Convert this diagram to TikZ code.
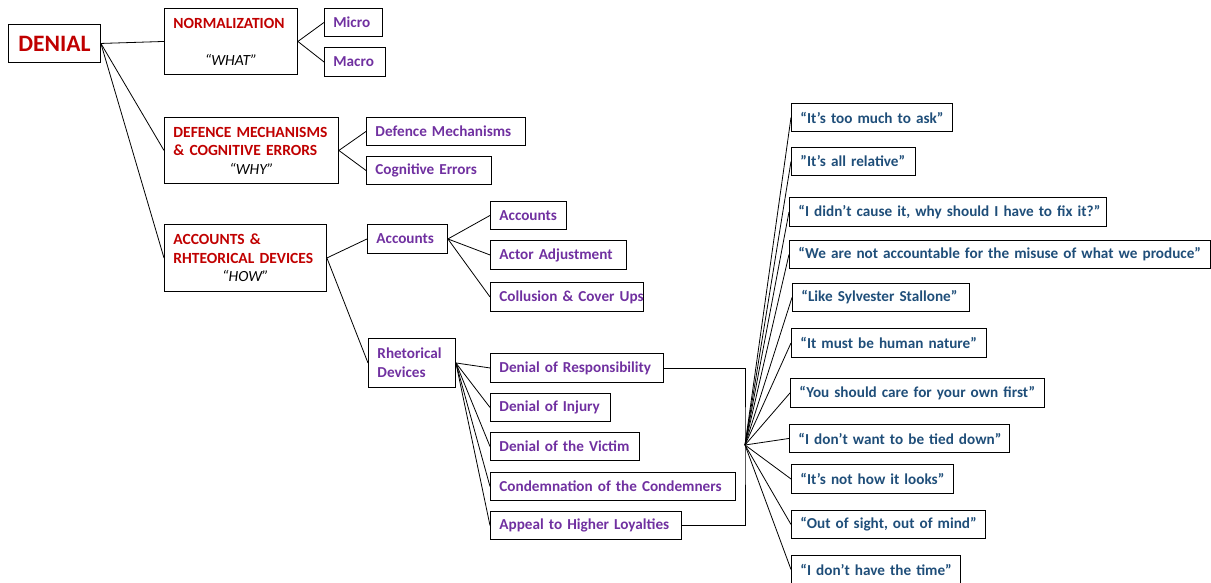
\documentclass[tikz,border=0pt]{standalone}
\usepackage{fontspec}
\setmainfont{Carlito}
\definecolor{dred}{HTML}{C00000}
\definecolor{purp}{HTML}{7030A0}
\definecolor{qblue}{HTML}{1F4E79}
\tikzset{
  bx/.style={draw=black, line width=0.9pt, rectangle, anchor=north west, inner xsep=9pt, inner ysep=0pt, align=left, font=\fontsize{15.2}{18.5}\selectfont\bfseries},
  redbx/.style={bx, text=dred, font=\fontsize{15.5}{18.5}\selectfont\bfseries},
  purbx/.style={bx, text=purp},
  qbx/.style={bx, text=qblue},
  ln/.style={draw=black, line width=0.8pt}
}
\newcommand{\qline}[1]{\makebox[\linewidth][c]{\color{black}\normalfont\itshape #1}}
\newcommand{\sq}{\symbol{34}}
\newcommand{\one}[1]{\makebox[\linewidth][l]{#1}}
\begin{document}
\begin{tikzpicture}[x=1pt,y=-1pt]
\useasboundingbox (0,0) rectangle (1211,582);
% main nodes
\node[bx, text=dred, font=\fontsize{23.5}{25}\selectfont\bfseries, text width=74pt, minimum height=38pt, align=center] (denial) at (8,24) {DENIAL};
\node[redbx, text width=115pt, minimum height=66pt] (norm) at (164,8) {\one{NORMALIZATION}\\[18.5pt] \qline{“WHAT”}};
\node[redbx, text width=156pt, minimum height=66pt] (def) at (164,117) {\one{DEFENCE MECHANISMS}\\ \one{\& COGNITIVE ERRORS}\\ \qline{“WHY”}};
\node[redbx, text width=144pt, minimum height=67pt] (acc) at (164,224) {\one{ACCOUNTS \&}\\ \one{RHTEORICAL DEVICES}\\ \qline{“HOW”}};
% level 2
\node[purbx, text width=40pt, minimum height=28pt] (micro) at (324,8) {\one{Micro}};
\node[purbx, text width=43pt, minimum height=29pt] (macro) at (324,47) {\one{Macro}};
\node[purbx, text width=141pt, minimum height=28pt] (dm) at (366,117) {\one{Defence Mechanisms}};
\node[purbx, text width=107pt, minimum height=28pt] (ce) at (366,156) {\one{Cognitive Errors}};
\node[purbx, text width=62pt, minimum height=29pt] (accs) at (367,224) {\one{Accounts}};
\node[purbx, text width=69pt, minimum height=49pt] (rhet) at (368,338) {\one{Rhetorical}\\ \one{Devices}};
% level 3
\node[purbx, text width=58pt, minimum height=28pt] (a1) at (490,201) {\one{Accounts}};
\node[purbx, text width=118pt, minimum height=29pt] (a2) at (490,240) {\one{Actor Adjustment}};
\node[purbx, text width=135pt, minimum height=29pt] (a3) at (490,282) {\one{Collusion \& Cover Ups}};
\node[purbx, text width=155pt, minimum height=29pt] (r1) at (490,353) {\one{Denial of Responsibility}};
\node[purbx, text width=102pt, minimum height=28pt] (r2) at (490,393) {\one{Denial of Injury}};
\node[purbx, text width=131pt, minimum height=28pt] (r3) at (490,432) {\one{Denial of the Victim}};
\node[purbx, text width=227pt, minimum height=28pt] (r4) at (490,472) {\one{Condemnation of the Condemners}};
\node[purbx, text width=173pt, minimum height=28pt] (r5) at (490,511) {\one{Appeal to Higher Loyalties}};
% quotes
\node[qbx, text width=143pt, minimum height=28pt] (q1) at (791,103) {\one{“It’s too much to ask”}};
\node[qbx, text width=106pt, minimum height=28pt] (q2) at (791,147) {\one{”It’s all relative”}};
\node[qbx, text width=299pt, minimum height=29pt] (q3) at (789,197) {\one{“I didn’t cause it, why should I have to fix it?”}};
\node[qbx, text width=403pt, minimum height=28pt] (q4) at (789,240) {\one{“We are not accountable for the misuse of what we produce”}};
\node[qbx, text width=159pt, minimum height=28pt] (q5) at (792,283) {\one{“Like Sylvester Stallone”}};
\node[qbx, text width=177pt, minimum height=29pt] (q6) at (791,328) {\one{“It must be human nature\sq}};
\node[qbx, text width=236pt, minimum height=29pt] (q7) at (790,378) {\one{“You should care for your own first\sq}};
\node[qbx, text width=202pt, minimum height=28pt] (q8) at (789,424) {\one{“I don’t want to be tied down”}};
\node[qbx, text width=144pt, minimum height=29pt] (q9) at (791,464) {\one{“It’s not how it looks”}};
\node[qbx, text width=176pt, minimum height=28pt] (q10) at (791,510) {\one{“Out of sight, out of mind”}};
\node[qbx, text width=151pt, minimum height=28pt] (q11) at (791,555) {\one{“I don’t have the time”}};
% connectors
\draw[ln] (denial.east) -- (norm.west);
\draw[ln] (denial.east) -- (def.west);
\draw[ln] (denial.east) -- (acc.west);
\draw[ln] (norm.east) -- (micro.west);
\draw[ln] (norm.east) -- (macro.west);
\draw[ln] (def.east) -- (dm.west);
\draw[ln] (def.east) -- (ce.west);
\draw[ln] (acc.east) -- (accs.west);
\draw[ln] (acc.east) -- (rhet.west);
\foreach \t in {a1,a2,a3} \draw[ln] (accs.east) -- (\t.west);
\foreach \t in {r1,r2,r3,r4,r5} \draw[ln] (rhet.east) -- (\t.west);
\coordinate (hub) at (745,445);
\draw[ln] (r1.east) -| (hub) |- (r5.east);
\foreach \t in {q1,q2,q3,q4,q5,q6,q7,q8,q9,q10,q11} \draw[ln] (hub) -- (\t.west);
\end{tikzpicture}
\end{document}
